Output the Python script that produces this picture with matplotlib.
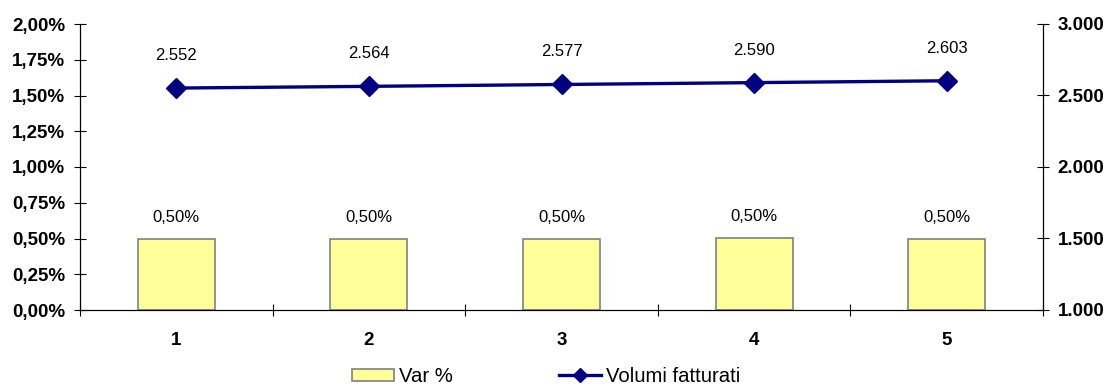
import matplotlib
matplotlib.use("Agg")
import matplotlib.pyplot as plt
import numpy as np
from matplotlib.ticker import FuncFormatter, MultipleLocator

plt.rcParams['font.family'] = ['Liberation Sans', 'DejaVu Sans']

categories = ['1', '2', '3', '4', '5']
var_pct = [0.50, 0.50, 0.50, 0.504, 0.50]
volumi = [2552, 2564, 2577, 2590, 2603]

x = np.arange(len(categories))

fig = plt.figure(figsize=(11.12, 3.9), dpi=100)
ax = fig.add_axes([80 / 1112, 80 / 390, 963 / 1112, 286 / 390])
ax2 = ax.twinx()

ax.bar(x, var_pct, width=0.4, color='#FFFF99', edgecolor='#808080', linewidth=1.2,
       label='Var %', zorder=2)
for xi, v in zip(x, var_pct):
    ax.annotate(f"{v:.2f}%".replace('.', ','), (xi, v), xytext=(0, 10),
                textcoords='offset points', ha='center', va='bottom', fontsize=12)

ax2.plot(x, volumi, color='#000080', lw=2.4, marker='D', ms=10, label='Volumi fatturati', zorder=3)
for xi, v in zip(x, volumi):
    ax2.annotate(f"{v:,}".replace(',', '.'), (xi, v), xytext=(0, 18),
                 textcoords='offset points', ha='center', va='bottom', fontsize=12)

ax.set_xlim(-0.5, 4.5)
ax.set_ylim(0, 2.0)
ax2.set_ylim(1000, 3000)
ax.yaxis.set_major_locator(MultipleLocator(0.25))
ax2.yaxis.set_major_locator(MultipleLocator(500))
ax.yaxis.set_major_formatter(FuncFormatter(lambda v, p: f"{v:.2f}%".replace('.', ',')))
ax2.yaxis.set_major_formatter(FuncFormatter(lambda v, p: f"{int(v):,}".replace(',', '.')))

ax.set_xticks(x)
ax.set_xticklabels(categories, fontweight='bold', fontsize=13.5)
ax.set_xticks(np.arange(-0.5, 5, 1), minor=True)
ax.tick_params(axis='x', which='major', length=0, pad=16)
ax.tick_params(axis='x', which='minor', direction='inout', length=9, width=0.8)

for a in (ax, ax2):
    a.tick_params(axis='y', direction='inout', length=9, width=0.8, labelsize=13.5)
    for lbl in a.get_yticklabels():
        lbl.set_fontweight('bold')
    a.spines['top'].set_visible(False)
    for s in a.spines.values():
        s.set_linewidth(0.8)
ax.tick_params(axis='y', pad=6)
ax2.tick_params(axis='y', pad=6)

h1, l1 = ax.get_legend_handles_labels()
h2, l2 = ax2.get_legend_handles_labels()
fig.legend(h1 + h2, l1 + l2, loc='center', bbox_to_anchor=(0.491, 0.035), ncol=2,
           frameon=False, fontsize=14.6, handlelength=2.07, handleheight=0.55,
           columnspacing=5.2, handletextpad=0.25, markerscale=0.75)

fig.savefig('out.png', dpi=100)
